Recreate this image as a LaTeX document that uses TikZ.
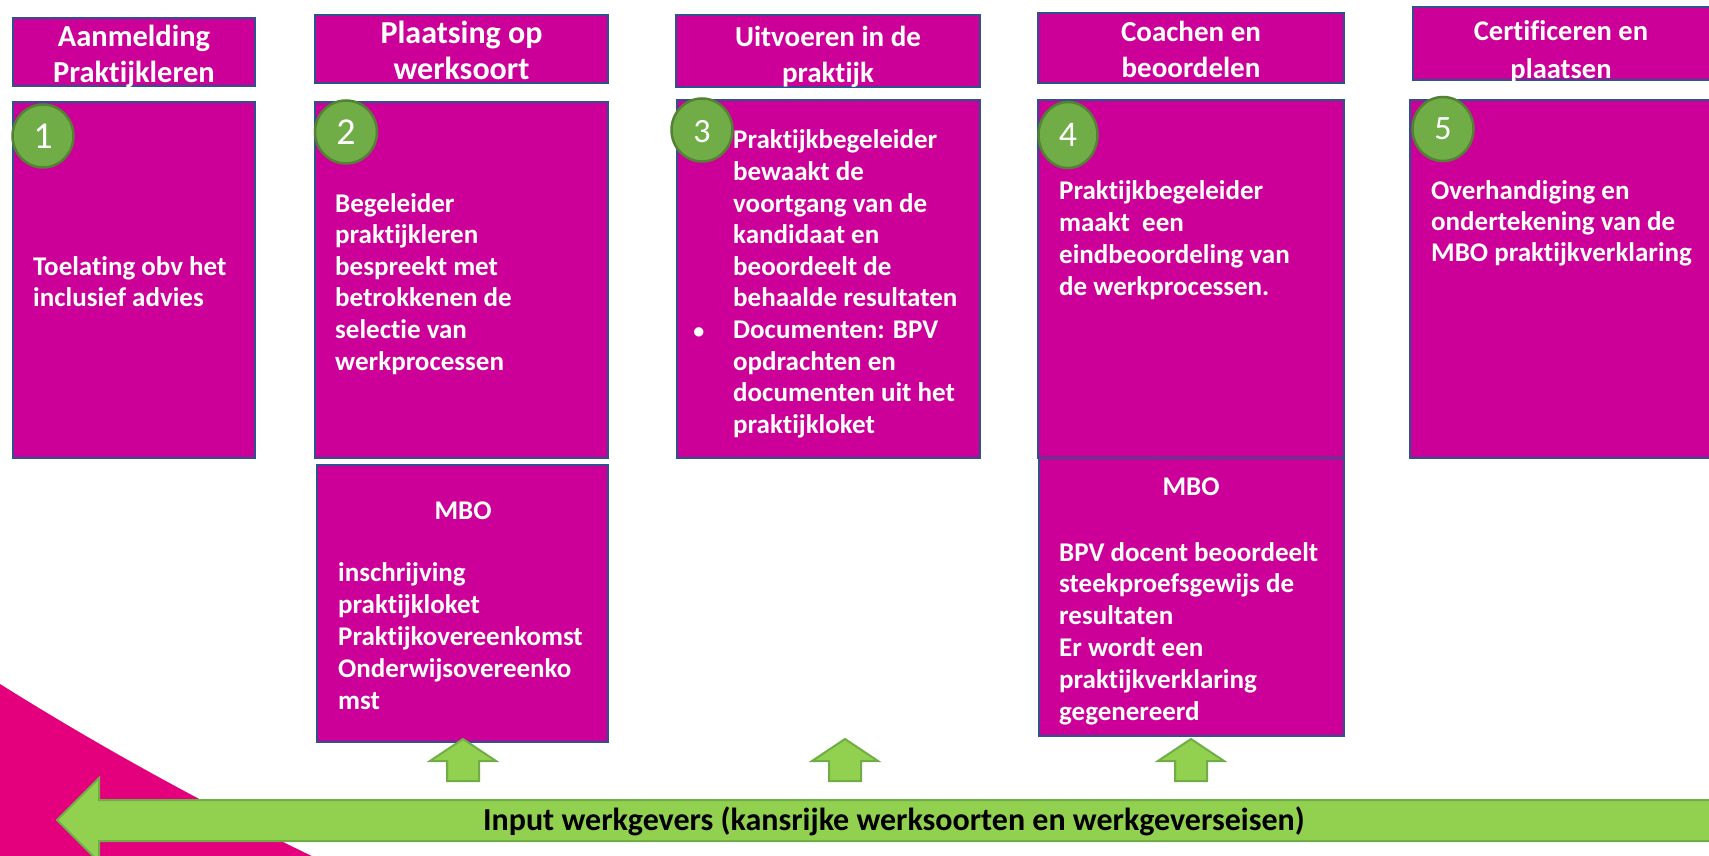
\documentclass[tikz,border=0pt]{standalone}
\usepackage{fontspec}
\setmainfont{Carlito}[RawFeature={-liga;-dlig}]
\usetikzlibrary{shapes.geometric}
\definecolor{boxfill}{RGB}{204,0,153}
\definecolor{boxline}{RGB}{47,82,143}
\definecolor{pinkbg}{RGB}{228,0,124}
\definecolor{circfill}{RGB}{112,173,71}
\definecolor{circline}{RGB}{84,130,53}
\definecolor{arrfill}{RGB}{146,208,80}
\definecolor{arrline}{RGB}{112,173,71}
\newcommand{\mylines}[1]{\begin{tabular}[t]{@{}l@{}}#1\end{tabular}}
\newcommand{\mycentre}[1]{\begin{tabular}[t]{@{}c@{}}#1\end{tabular}}
\begin{document}
\begin{tikzpicture}[x=1pt,y=-1pt,
  box/.style={draw=boxline,fill=boxfill,line width=2pt,inner sep=0pt,outer sep=0pt},
  numcirc/.style={ellipse,draw=circline,fill=circfill,line width=2.5pt,inner sep=0pt},
  numtxt/.style={text=white,inner sep=0pt},
  headtxt/.style={text=white,inner sep=0pt,anchor=base,font=\bfseries\fontsize{29}{36}\selectfont},
  bodytxt/.style={text=white,inner sep=0pt,anchor=base west,font=\bfseries\fontsize{27}{31.6}\selectfont},
  blockarrow/.style={fill=arrfill,draw=arrline,line width=2pt,line join=miter}
]
\clip (0,0) rectangle (1709,856);
\fill[white] (0,0) rectangle (1709,856);
% pink background shape
\fill[pinkbg] (0,684) .. controls (110,753) and (220,812) .. (320,860) -- (0,860) -- cycle;
% header boxes
\node[box,minimum width=242pt,minimum height=68pt] (h1) at (134,52) {};
\node[box,minimum width=293pt,minimum height=68pt] (h2) at (461.5,49) {};
\node[box,minimum width=304pt,minimum height=72pt] (h3) at (828,51) {};
\node[box,minimum width=306pt,minimum height=70pt] (h4) at (1191,48) {};
\node[box,minimum width=307pt,minimum height=73pt] (h5) at (1566.5,43.5) {};
% body boxes
\node[box,minimum width=242pt,minimum height=356pt] (b1) at (134,280) {};
\node[box,minimum width=293pt,minimum height=356pt] (b2) at (461.5,280) {};
\node[box,minimum width=303pt,minimum height=358pt] (b3) at (828.5,279) {};
\node[box,minimum width=306pt,minimum height=358pt] (b4) at (1191,279) {};
\node[box,minimum width=310pt,minimum height=358pt] (b5) at (1565,279) {};
% MBO boxes
\node[box,minimum width=291pt,minimum height=277pt] (m2) at (462.5,603) {};
\node[box,minimum width=305pt,minimum height=278pt] (m4) at (1191.5,597) {};
% number circles
\node[numcirc,minimum width=61pt,minimum height=63pt] (c1) at (43,136) {};
\node[numcirc,minimum width=62pt,minimum height=63pt] (c2) at (346,132) {};
\node[numcirc,minimum width=61pt,minimum height=63pt] (c3) at (702,130) {};
\node[numcirc,minimum width=59pt,minimum height=66pt] (c4) at (1068,135) {};
\node[numcirc,minimum width=61pt,minimum height=64pt] (c5) at (1443,129) {};
\node[numtxt,font=\fontsize{38}{40}\selectfont] (n1) at (c1.center) {1};
\node[numtxt,font=\fontsize{38}{40}\selectfont] (n2) at (c2.center) {2};
\node[numtxt,font=\fontsize{34}{36}\selectfont] (n3) at ([yshift=-2pt]c3.center) {3};
\node[numtxt,font=\fontsize{36}{38}\selectfont] (n4) at (c4.center) {4};
\node[numtxt,font=\fontsize{34}{36}\selectfont] (n5) at (c5.center) {5};
% header texts
\node[headtxt,font=\bfseries\fontsize{30.5}{36}\selectfont] (ht1) at (134,47) {\mycentre{Aanmelding\\Praktijkleren}};
\node[headtxt,font=\bfseries\fontsize{32}{36}\selectfont] (ht2) at (461.5,44) {\mycentre{Plaatsing op\\werksoort}};
\node[headtxt] (ht3) at (828,47) {\mycentre{Uitvoeren in de\\praktijk}};
\node[headtxt] (ht4) at (1191,42) {\mycentre{Coachen en\\beoordelen}};
\node[headtxt,font=\bfseries\fontsize{28.5}{38}\selectfont] (ht5) at (1561,41) {\mycentre{Certificeren en\\plaatsen}};
% body texts
\node[bodytxt,font=\bfseries\fontsize{27}{31}\selectfont] (t1) at (33,275) {\mylines{Toelating obv het\\inclusief advies}};
\node[bodytxt] (t2) at (335,212) {\mylines{Begeleider\\praktijkleren\\bespreekt met\\betrokkenen de\\selectie van\\werkprocessen}};
\node[bodytxt] (t3) at (733,149) {\mylines{Praktijkbegeleider\\bewaakt de\\voortgang van de\\kandidaat en\\beoordeelt de\\behaalde resultaten\\\llap{{\fontsize{22}{24}\selectfont •}\hspace{29pt}}Documenten: BPV\\opdrachten en\\documenten uit het\\praktijkloket}};
\node[bodytxt,font=\bfseries\fontsize{27}{31.7}\selectfont] (t4) at (1059,200) {\mylines{Praktijkbegeleider\\maakt\ \ een\\eindbeoordeling van\\de werkprocessen.}};
\node[bodytxt,font=\bfseries\fontsize{27}{31}\selectfont] (t5) at (1431,200) {\mylines{Overhandiging en\\ondertekening van de\\MBO praktijkverklaring}};
% MBO texts
\node[bodytxt,anchor=base] (mt2) at (463,519) {MBO};
\node[bodytxt,font=\bfseries\fontsize{27}{32.2}\selectfont] (ml2) at (338,581) {\mylines{inschrijving\\praktijkloket\\Praktijkovereenkomst\\Onderwijsovereenko\\mst}};
\node[bodytxt,anchor=base] (mt4) at (1191,495) {MBO};
\node[bodytxt,font=\bfseries\fontsize{27}{31.8}\selectfont] (ml4) at (1059,561) {\mylines{BPV docent beoordeelt\\steekproefsgewijs de\\resultaten\\Er wordt een\\praktijkverklaring\\gegenereerd}};
% small up arrows
\foreach \cx/\nm in {463/ua1,845/ua2,1191/ua3}{
  \draw[blockarrow] (\cx,739) -- (\cx+33,761) -- (\cx+16,761) -- (\cx+16,781) -- (\cx-16,781) -- (\cx-16,761) -- (\cx-33,761) -- cycle;
}
% big left arrow
\draw[blockarrow] (57,820) -- (99,778) -- (99,800) -- (1720,800) -- (1720,841) -- (99,841) -- (99,862) -- cycle;
\node[inner sep=0pt,anchor=base,font=\bfseries\fontsize{32}{36}\selectfont] (lbl) at (894,830) {Input werkgevers (kansrijke werksoorten en werkgeverseisen)};
\end{tikzpicture}
\end{document}
